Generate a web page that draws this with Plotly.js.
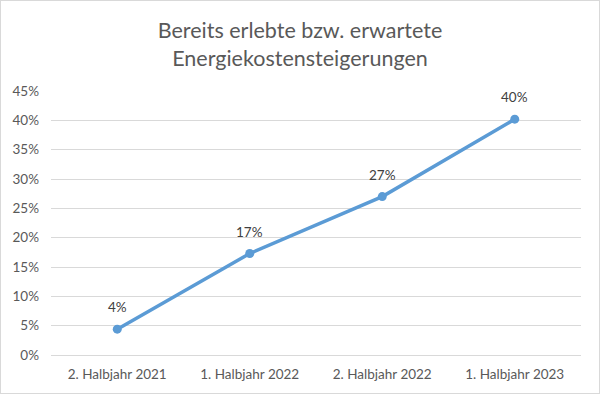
<!DOCTYPE html>
<html>
<head>
<meta charset="utf-8">
<script src="https://cdn.plot.ly/plotly-3.0.1.min.js"></script>
<style>
html,body{margin:0;padding:0;background:#fff;}
#wrap{position:relative;width:600px;height:394px;}
#chart{width:600px;height:394px;}
#frame{position:absolute;left:0;top:0;width:598px;height:392px;border:1px solid #d9d9d9;pointer-events:none;}
</style>
</head>
<body>
<div id="wrap"><div id="chart"></div><div id="frame"></div></div>
<script>
const categories = ["2. Halbjahr 2021", "1. Halbjahr 2022", "2. Halbjahr 2022", "1. Halbjahr 2023"];
const values = [0.044, 0.173, 0.270, 0.402];
const labels = ["4%", "17%", "27%", "40%"];
const yTickVals = [0, 0.05, 0.10, 0.15, 0.20, 0.25, 0.30, 0.35, 0.40, 0.45];
const yTickText = ["0%", "5%", "10%", "15%", "20%", "25%", "30%", "35%", "40%", "45%"];

const font = "Lato, 'Open Sans', sans-serif";
const trace = {
  x: categories,
  y: values,
  type: "scatter",
  mode: "lines+markers",
  line: {color: "#5B9BD5", width: 3.5},
  marker: {color: "#5B9BD5", size: 9},
  hoverinfo: "none",
  cliponaxis: false
};
const annotations = categories.map((c, i) => ({
  x: c, y: values[i], xref: "x", yref: "y",
  text: labels[i], showarrow: false,
  yshift: 22,
  font: {family: font, size: 13.5, color: "#404040"}
}));
const layout = {
  width: 600, height: 394,
  margin: {l: 51, r: 19, t: 91, b: 39},
  paper_bgcolor: "#fff", plot_bgcolor: "#fff",
  showlegend: false,
  annotations: annotations,
  title: {
    text: "Bereits erlebte bzw. erwartete<br>Energiekostensteigerungen",
    font: {family: font, size: 21.5, color: "#595959"},
    x: 0.5, xanchor: "center",
    yref: "container", y: 0.903, yanchor: "middle"
  },
  xaxis: {
    type: "category",
    range: [-0.5, 3.5],
    showgrid: false, zeroline: false, showline: false,
    ticks: "",
    ticklabelstandoff: 9,
    tickfont: {family: font, size: 13.5, color: "#595959"},
    fixedrange: true
  },
  yaxis: {
    range: [0, 0.45],
    tickvals: yTickVals,
    ticktext: yTickText,
    showgrid: true, gridcolor: "#d9d9d9", gridwidth: 1,
    zeroline: true, zerolinecolor: "#d9d9d9", zerolinewidth: 1,
    showline: false, ticks: "",
    ticklabelstandoff: 11,
    tickfont: {family: font, size: 13.5, color: "#595959"},
    fixedrange: true
  }
};
Plotly.newPlot("chart", [trace], layout, {displayModeBar: false, staticPlot: true});
</script>
</body>
</html>
